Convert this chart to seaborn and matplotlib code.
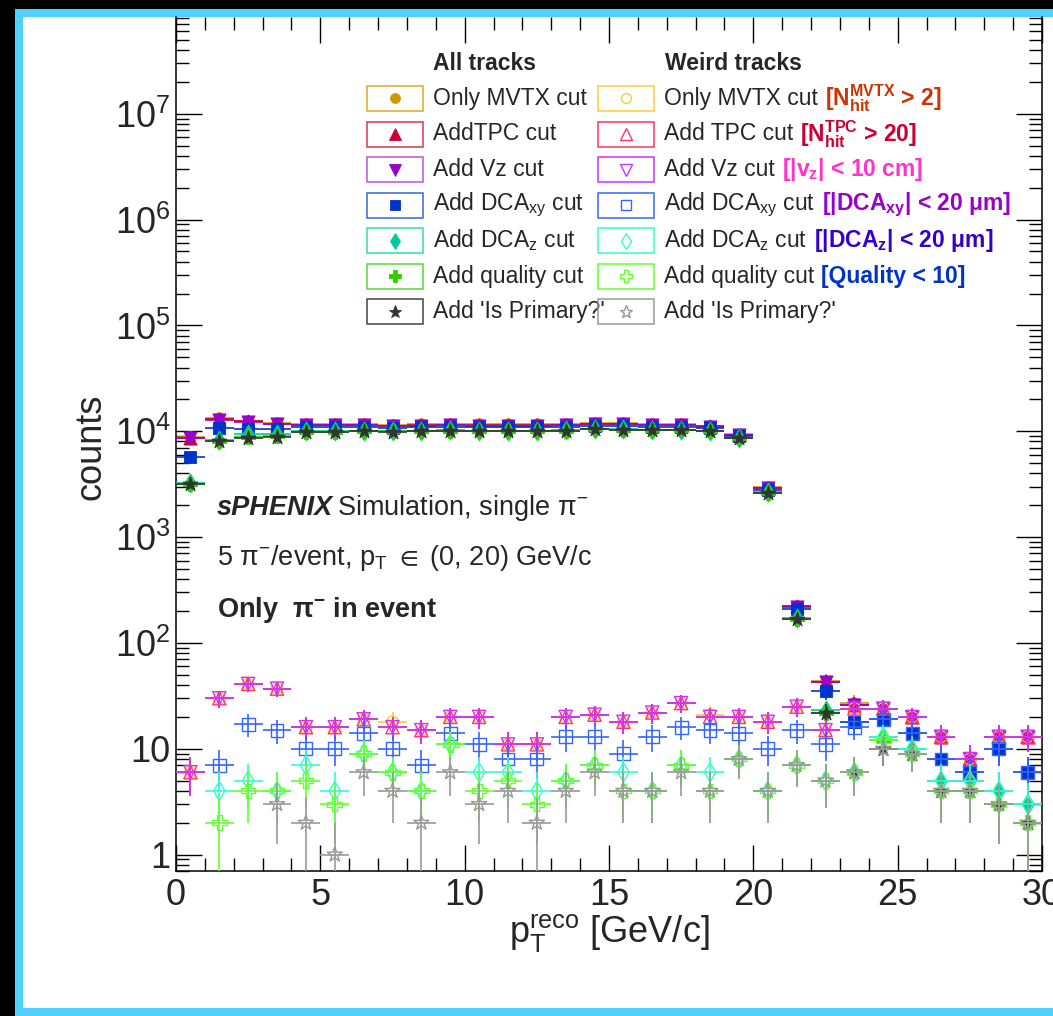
import numpy as np
import matplotlib
matplotlib.use("Agg")
import matplotlib.pyplot as plt
from matplotlib.patches import Rectangle
from matplotlib.lines import Line2D
from matplotlib.ticker import FixedLocator, FixedFormatter, LogLocator, NullFormatter, MultipleLocator
import seaborn as sns

# ---------------------------------------------------------------- data
pt_edges = list(range(0, 31))   # 1 GeV/c bins from 0 to 30

# all reconstructed tracks after each successive cut
all_mvtx = [8800, 13300, 12600, 11900, 11700, 11700, 11700, 11500, 11600, 11700,
            11600, 11600, 11600, 11700, 12000, 11900, 11700, 11700, 11300, 9500,
            2950, 225, 44, 27, 24, 20, 13, 8, 13, 13]
all_tpc = [8700, 13000, 12400, 11700, 11500, 11500, 11500, 11300, 11400, 11500,
           11400, 11400, 11400, 11500, 11800, 11700, 11500, 11500, 11100, 9300,
           2900, 222, 43, 26, 24, 20, 13, 8, 13, 13]
all_vz = [8600, 12900, 12300, 11600, 11400, 11400, 11400, 11200, 11300, 11400,
          11300, 11300, 11300, 11400, 11700, 11600, 11400, 11400, 11000, 9200,
          2880, 220, 43, 26, 24, 20, 13, 8, 13, 13]
all_dcaxy = [5700, 10700, 10600, 10600, 11000, 11000, 11000, 10800, 10900, 11000,
             10900, 10900, 10900, 11000, 11300, 11200, 11000, 11000, 10700, 9000,
             2800, 210, 35, 18, 19, 14, 8, 6, 10, 6]
all_dcaz = [3250, 8200, 9400, 9500, 9950, 9950, 10100, 10000, 10100, 10200,
            10100, 10100, 10100, 10200, 10500, 10400, 10300, 10300, 10100, 8700,
            2650, 172, 23, 6, 13, 10, 5, 5, 4, 3]
all_quality = [3200, 8100, 8800, 9100, 9900, 9900, 10050, 9950, 10050, 10150,
               10050, 10050, 10050, 10150, 10450, 10350, 10250, 10250, 10050, 8650,
               2620, 170, 22, 6, 12, 9, 4, 4, 3, 2]
all_primary = [3150, 8000, 8600, 8900, 9800, 9800, 10000, 9900, 10000, 10100,
               10000, 10000, 10000, 10100, 10400, 10300, 10200, 10200, 10000, 8600,
               2600, 168, 22, 6, 10, 9, 4, 4, 3, 2]

# "weird" tracks after each successive cut (0 = empty bin)
weird_mvtx = [6, 30, 41, 37, 16, 16, 19, 18, 15, 20, 20, 11, 11, 20, 21,
              18, 22, 27, 21, 20, 18, 25, 15, 24, 24, 20, 13, 8, 13, 13]
weird_tpc = [6, 30, 41, 37, 16, 16, 19, 16, 15, 20, 20, 11, 11, 20, 21,
             18, 22, 27, 20, 20, 18, 25, 15, 24, 24, 20, 13, 8, 13, 13]
weird_vz = [6, 30, 41, 37, 16, 16, 19, 16, 15, 20, 20, 11, 11, 20, 21,
            18, 22, 27, 20, 20, 18, 25, 15, 24, 24, 20, 13, 8, 13, 13]
weird_dcaxy = [0, 7, 17, 15, 10, 10, 14, 10, 7, 14, 11, 8, 8, 13, 13,
               9, 13, 16, 15, 14, 10, 15, 11, 16, 19, 14, 8, 6, 10, 6]
weird_dcaz = [0, 4, 5, 4, 7, 4, 9, 6, 4, 11, 6, 6, 4, 5, 7,
              6, 4, 7, 6, 8, 4, 7, 5, 6, 13, 10, 5, 5, 4, 3]
weird_quality = [0, 2, 4, 4, 5, 3, 9, 6, 4, 11, 4, 5, 3, 5, 7,
                 4, 4, 7, 4, 8, 4, 7, 5, 6, 12, 9, 4, 4, 3, 2]
weird_primary = [0, 0, 0, 3, 2, 1, 6, 4, 2, 6, 3, 4, 2, 4, 6,
                 4, 4, 6, 4, 8, 4, 7, 5, 6, 10, 9, 4, 4, 3, 2]

all_labels = ["Only MVTX cut", "AddTPC cut", "Add Vz cut",
              "Add DCA$_{xy}$ cut", "Add DCA$_{z}$ cut",
              "Add quality cut", "Add 'Is Primary?'"]
weird_labels = ["Only MVTX cut", "Add TPC cut", "Add Vz cut",
                "Add DCA$_{xy}$ cut", "Add DCA$_{z}$ cut",
                "Add quality cut", "Add 'Is Primary?'"]
cut_texts = [r"[N$_{\mathbf{hit}}^{\mathbf{MVTX}}$ > 2]",
             r"[N$_{\mathbf{hit}}^{\mathbf{TPC}}$ > 20]",
             r"[|v$_{\mathbf{z}}$| < 10 cm]",
             r"[|DCA$_{\mathbf{xy}}$| < 20 μm]",
             r"[|DCA$_{\mathbf{z}}$| < 20 μm]",
             "[Quality < 10]",
             ""]
cut_colors = ["#CC3300", "#CC0033", "#FF33CC", "#9900CC", "#3300CC", "#0033CC", "k"]

ytick_values = [1, 10, 1e2, 1e3, 1e4, 1e5, 1e6, 1e7]
ytick_labels = ["1", "10", "$10^{2}$", "$10^{3}$", "$10^{4}$", "$10^{5}$", "$10^{6}$", "$10^{7}$"]

# ---------------------------------------------------------------- styles
markers = ["o", "^", "v", "s", "d", "P", "*"]
sizes = [70, 90, 90, 85, 95, 110, 130]
all_colors = ["#CC9900", "#CC0033", "#9900CC", "#0033CC", "#00CC99", "#33CC00", "#333333"]
all_box = ["#DDAA22", "#DD3355", "#BB55DD", "#3366DD", "#33DDAA", "#55DD33", "#444444"]
weird_colors = ["#FFCC33", "#FF3366", "#CC33FF", "#3366FF", "#33FFCC", "#66FF33", "#999999"]

all_series = [all_mvtx, all_tpc, all_vz, all_dcaxy, all_dcaz, all_quality, all_primary]
weird_series = [weird_mvtx, weird_tpc, weird_vz, weird_dcaxy, weird_dcaz, weird_quality, weird_primary]

sns.set_theme(style="ticks")
plt.rcParams.update({
    "font.family": ["Liberation Sans", "DejaVu Sans"],
    "mathtext.fontset": "custom",
    "mathtext.rm": "Liberation Sans",
    "mathtext.it": "Liberation Sans:italic",
    "mathtext.bf": "Liberation Sans:bold",
    "mathtext.sf": "Liberation Sans",
    "mathtext.default": "regular",
    "axes.linewidth": 1.1,
})

W, H = 1053, 1016
fig = plt.figure(figsize=(W / 100, H / 100), dpi=100, facecolor="black")


def fx(px):
    return px / W


def fy(py):
    return 1 - py / H


# slide frame
fig.add_artist(Rectangle((fx(15), 0), 1, fy(9), transform=fig.transFigure,
                         facecolor="#4FD0FF", edgecolor="none", zorder=-10))
fig.add_artist(Rectangle((fx(23), fy(1008)), 1, fy(17) - fy(1008), transform=fig.transFigure,
                         facecolor="white", edgecolor="none", zorder=-9))

ax_left, ax_right, ax_top, ax_bottom = 176, 1042, 17, 871
ax = fig.add_axes([fx(ax_left), fy(ax_bottom), fx(ax_right - ax_left), (ax_bottom - ax_top) / H])
ax.set_facecolor("white")
ax.set_yscale("log")
ax.set_xlim(0, 30)
ax.set_ylim(0.7, 8.2e7)

edges = np.array(pt_edges, dtype=float)
centers = 0.5 * (edges[:-1] + edges[1:])
half_w = 0.5 * np.diff(edges)

z = 2
for group, colors, filled in ((all_series, all_colors, True), (weird_series, weird_colors, False)):
    for vals, col, mk, sz in zip(group, colors, markers, sizes):
        v = np.array(vals, dtype=float)
        ok = v > 0
        x, y = centers[ok], v[ok]
        ax.errorbar(x, y, xerr=half_w[ok], yerr=np.sqrt(y), fmt="none",
                    ecolor=col, elinewidth=1.2, capsize=0, zorder=z)
        if filled:
            sns.scatterplot(x=x, y=y, marker=mk, s=sz, color=col, edgecolor=col,
                            linewidth=0.6, ax=ax, zorder=z + 1, legend=False)
        else:
            sns.scatterplot(x=x, y=y, marker=mk, s=sz, color=col, facecolor="none",
                            edgecolor=col, linewidth=1.0, ax=ax, zorder=z + 1, legend=False)
        z += 2

# axes decoration
ax.xaxis.set_major_locator(MultipleLocator(5))
ax.xaxis.set_minor_locator(MultipleLocator(1))
ax.yaxis.set_major_locator(FixedLocator(ytick_values))
ax.yaxis.set_major_formatter(FixedFormatter(ytick_labels))
ax.yaxis.set_minor_locator(LogLocator(base=10, subs=np.arange(2, 10)))
ax.yaxis.set_minor_formatter(NullFormatter())
ax.tick_params(which="both", direction="in", top=True, right=True, color="black", width=1.0)
ax.tick_params(which="major", length=19)
ax.tick_params(which="minor", length=9.5)
ax.tick_params(axis="x", which="major", labelsize=26, pad=5)
ax.tick_params(axis="y", which="major", labelsize=26, pad=4)
for sp in ax.spines.values():
    sp.set_color("black")
ax.spines["top"].set_visible(False)

ax.set_xlabel(r"p$_{T}^{reco}$ [GeV/c]", fontsize=26)
ax.xaxis.set_label_coords(0.5, -(912 - ax_bottom) / (ax_bottom - ax_top))
ax.set_ylabel("counts", fontsize=26)
ax.yaxis.set_label_coords(-(ax_left - 108) / (ax_right - ax_left), (ax_bottom - 447) / (ax_bottom - ax_top))

# legend, two columns
leg_fs = 16.5
row0, pitch = 98.5, 35.5
fig.text(fx(433), fy(63), "All tracks", fontsize=leg_fs, fontweight="bold", va="center", ha="left")
fig.text(fx(665), fy(63), "Weird tracks", fontsize=leg_fs, fontweight="bold", va="center", ha="left")

weird_texts = []
for i in range(7):
    yc = row0 + pitch * i
    for (bx, cols, boxc, lab, filled) in ((367, all_colors, all_box, all_labels[i], True),
                                           (598, weird_colors, weird_colors, weird_labels[i], False)):
        fig.add_artist(Rectangle((fx(bx), fy(yc + 12.5)), 56 / W, 25 / H, transform=fig.transFigure,
                                 facecolor="none", edgecolor=boxc[i], linewidth=1.1, zorder=5))
        ms = np.sqrt(sizes[i]) * 0.85
        fig.add_artist(Line2D([fx(bx + 28)], [fy(yc)], transform=fig.transFigure, marker=markers[i],
                              markersize=ms, color=cols[i],
                              markerfacecolor=cols[i] if filled else "none",
                              markeredgecolor=cols[i], markeredgewidth=0.6 if filled else 1.0,
                              linestyle="none", zorder=6))
        t = fig.text(fx(bx + 66), fy(yc), lab, fontsize=leg_fs, va="center", ha="left", zorder=4)
        if not filled:
            weird_texts.append(t)

# annotation block
t1 = fig.text(fx(217), fy(508), "sPHENIX", fontsize=19.5, fontweight="bold", fontstyle="italic",
              va="center", ha="left")
fig.text(fx(217), fy(558), r"5 π$^{-}$/event, p$_{T}$ ${\in}$ (0, 20) GeV/c", fontsize=19.5,
         va="center", ha="left")
fig.text(fx(217), fy(610), "Only  π$^{-}$ in event", fontsize=19.5, fontweight="bold",
         va="center", ha="left")

fig.canvas.draw()
renderer = fig.canvas.get_renderer()
bb = t1.get_window_extent(renderer)
fig.text(bb.x1 / W + 4 / W, fy(508), "Simulation, single π$^{-}$", fontsize=19.5,
         va="center", ha="left")
for t, txt, c in zip(weird_texts, cut_texts, cut_colors):
    if not txt:
        continue
    bb = t.get_window_extent(renderer)
    y_mid = t.get_position()[1]
    fig.text(bb.x1 / W + 7 / W, y_mid, txt, fontsize=leg_fs, fontweight="bold", color=c,
             va="center", ha="left")

fig.savefig("out.png", dpi=100, facecolor=fig.get_facecolor())
